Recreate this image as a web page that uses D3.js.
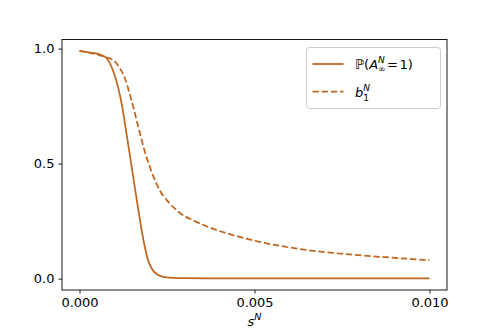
<!DOCTYPE html>
<html>
<head>
<meta charset="utf-8">
<script src="https://cdn.jsdelivr.net/npm/d3@7"></script>
<style>
  body { margin: 0; background: #fff; }
  text { font-family: "DejaVu Sans", sans-serif; fill: #000; }
</style>
</head>
<body>
<svg id="chart" width="498" height="332"></svg>
<script>
// s^N values and the two curves
const sSolid = [0, 0.0003, 0.00059, 0.00078, 0.00097, 0.00111, 0.00121, 0.0013, 0.00139,
  0.00149, 0.00159, 0.00168, 0.00177, 0.00187, 0.00196, 0.00206, 0.00215, 0.0023,
  0.00258, 0.003, 0.004, 0.006, 0.008, 0.01]
const probA = [0.99, 0.983, 0.974, 0.957, 0.899, 0.827, 0.756, 0.672, 0.585,
  0.486, 0.387, 0.3, 0.215, 0.135, 0.08, 0.045, 0.027, 0.012,
  0.004, 0.002, 0.001, 0.001, 0.001, 0.001]

const sDashed = [0, 0.0004, 0.00073, 0.00097, 0.00116, 0.0013, 0.00144, 0.00154, 0.00163,
  0.00173, 0.00187, 0.00201, 0.00215, 0.0023, 0.00249, 0.00272, 0.00287, 0.00324,
  0.00372, 0.00419, 0.00476, 0.00514, 0.00571, 0.00647, 0.00723, 0.00799, 0.00875,
  0.0095, 0.01]
const b1 = [0.99, 0.978, 0.964, 0.949, 0.913, 0.87, 0.8, 0.745, 0.69,
  0.63, 0.55, 0.485, 0.43, 0.382, 0.342, 0.305, 0.285, 0.254,
  0.222, 0.198, 0.174, 0.16, 0.143, 0.125, 0.112, 0.102, 0.093,
  0.085, 0.08]

const xTicks = [0, 0.005, 0.01]
const yTicks = [0, 0.5, 1.0]

const color = '#c0661e'
const margin = { left: 62, right: 51, top: 39.5, bottom: 42 }
const W = 498
const H = 332

let svg = d3.select('#chart')

let x = d3.scaleLinear()
  .domain([-0.0005, 0.0105])
  .range([margin.left, W - margin.right])
let y = d3.scaleLinear()
  .domain([-0.0495, 1.0395])
  .range([H - margin.bottom, margin.top])

// axes
let xAxis = d3.axisBottom(x).tickValues(xTicks).tickSize(3.5).tickPadding(4)
  .tickFormat(d3.format('.3f'))
let yAxis = d3.axisLeft(y).tickValues(yTicks).tickSize(3.5).tickPadding(4)
  .tickFormat(d3.format('.1f'))

let gx = svg.append('g')
  .attr('transform', 'translate(0,' + (H - margin.bottom) + ')')
  .call(xAxis)
let gy = svg.append('g')
  .attr('transform', 'translate(' + margin.left + ',0)')
  .call(yAxis)
for (let g of [gx, gy]) {
  g.select('.domain').remove()
  g.selectAll('text').style('font-family', '"DejaVu Sans", sans-serif')
    .style('font-size', '13px').attr('fill', '#000')
  g.selectAll('line').attr('stroke', '#000').attr('stroke-width', 0.9)
}

// spines
svg.append('rect')
  .attr('x', x.range()[0]).attr('y', y.range()[1])
  .attr('width', x.range()[1] - x.range()[0])
  .attr('height', y.range()[0] - y.range()[1])
  .attr('fill', 'none').attr('stroke', '#000').attr('stroke-width', 0.9)

// curves
let line = d3.line()
  .x(function (d) { return x(d[0]) })
  .y(function (d) { return y(d[1]) })
  .curve(d3.curveMonotoneX)

svg.append('path')
  .datum(d3.zip(sSolid, probA))
  .attr('d', line)
  .attr('fill', 'none').attr('stroke', color).attr('stroke-width', 1.75)

svg.append('path')
  .datum(d3.zip(sDashed, b1))
  .attr('d', line)
  .attr('fill', 'none').attr('stroke', color).attr('stroke-width', 1.75)
  .attr('stroke-dasharray', '6.4,2.8')

// x label s^N
let xl = svg.append('text')
  .attr('x', x(0.005)).attr('y', 326)
  .attr('text-anchor', 'middle')
  .style('font-size', '13px')
xl.append('tspan').style('font-style', 'italic').text('s')
xl.append('tspan').attr('dy', -6).style('font-size', '9.5px')
  .style('font-style', 'italic').text('N')

// legend
let leg = svg.append('g')
leg.append('rect')
  .attr('x', 306.5).attr('y', 47.5).attr('width', 134).attr('height', 61)
  .attr('rx', 3).attr('fill', '#fff').attr('fill-opacity', 0.8)
  .attr('stroke', '#cccccc').attr('stroke-width', 1)

leg.append('line')
  .attr('x1', 312.5).attr('x2', 343.5).attr('y1', 64).attr('y2', 64)
  .attr('stroke', color).attr('stroke-width', 1.75)
leg.append('line')
  .attr('x1', 312.5).attr('x2', 343.5).attr('y1', 91.5).attr('y2', 91.5)
  .attr('stroke', color).attr('stroke-width', 1.75)
  .attr('stroke-dasharray', '6.4,2.8')

// mathtext-ish pieces, laid out by measuring
function piece (g, str, px, py, size, italic) {
  let t = g.append('text').attr('x', px).attr('y', py)
    .style('font-size', size + 'px')
    .style('font-style', italic ? 'italic' : 'normal')
    .text(str)
  return t.node().getComputedTextLength()
}

let fs = 13
let ss = 9
let cx = 355
let by = 68.5
cx += piece(leg, 'ℙ(', cx, by, fs, false)
cx += piece(leg, 'A', cx, by, fs, true)
let nw = piece(leg, 'N', cx, by - 6, ss, true)
let iw = piece(leg, '∞', cx, by + 3.5, ss, false)
cx += Math.max(nw, iw) + 1.5
cx += piece(leg, '=', cx, by, fs, false) + 1.5
piece(leg, '1)', cx, by, fs, false)

cx = 355
by = 97
cx += piece(leg, 'b', cx, by, fs, true)
piece(leg, 'N', cx, by - 6.5, ss, true)
piece(leg, '1', cx, by + 4, ss, false)
</script>
</body>
</html>
